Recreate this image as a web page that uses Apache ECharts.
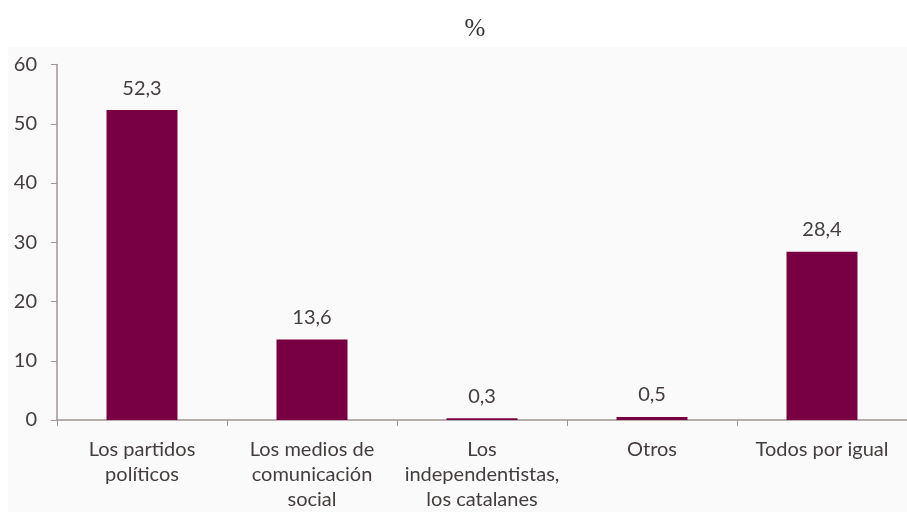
<!DOCTYPE html>
<html>
<head>
<meta charset="utf-8">
<script src="https://cdn.jsdelivr.net/npm/echarts@6/dist/echarts.min.js"></script>
<style>
  html, body { margin: 0; padding: 0; background: #ffffff; }
  #chart { width: 907px; height: 512px; }
</style>
</head>
<body>
<div id="chart"></div>
<script>
// Respuestas (%)
const categories = [
  'Los partidos\npolíticos',
  'Los medios de\ncomunicación\nsocial',
  'Los\nindependentistas,\nlos catalanes',
  'Otros',
  'Todos por igual'
];
const values = [52.3, 13.6, 0.3, 0.5, 28.4];
const yTicks = { min: 0, max: 60, interval: 10 };

const labelFont = 'Lato, "Open Sans", sans-serif';
const textColor = '#453d3d';
const axisColor = '#a39494';

const chart = echarts.init(document.getElementById('chart'), null, { renderer: 'canvas' });
chart.setOption({
  backgroundColor: '#ffffff',
  animation: false,
  graphic: [{
    type: 'rect',
    z: -10,
    shape: { x: 8, y: 47, width: 899, height: 465 },
    style: { fill: '#fafafa' }
  }],
  title: {
    text: '%',
    left: 470,
    top: 12,
    textAlign: 'center',
    textStyle: { fontFamily: '"Liberation Serif", "DejaVu Serif", serif', fontWeight: 'normal', fontSize: 25, color: '#333333' }
  },
  grid: { left: 57, top: 64.5, width: 855, height: 355.5, containLabel: false },
  xAxis: {
    type: 'category',
    data: categories,
    axisLine: { lineStyle: { color: axisColor, width: 1.5 } },
    axisTick: { show: true, alignWithLabel: false, length: 6, lineStyle: { color: axisColor } },
    axisLabel: {
      interval: 0,
      margin: 17,
      fontFamily: labelFont,
      fontSize: 20,
      lineHeight: 25,
      color: textColor
    },
    splitLine: { show: false }
  },
  yAxis: {
    type: 'value',
    min: yTicks.min,
    max: yTicks.max,
    interval: yTicks.interval,
    axisLine: { show: true, lineStyle: { color: axisColor, width: 1.5 } },
    axisTick: { show: true, length: 6, lineStyle: { color: axisColor } },
    axisLabel: {
      margin: 20,
      fontFamily: labelFont,
      fontSize: 20,
      color: textColor
    },
    splitLine: { show: false }
  },
  series: [{
    type: 'bar',
    data: values,
    barWidth: 71,
    barCategoryGap: '58%',
    itemStyle: { color: '#780042' },
    label: {
      show: true,
      position: 'top',
      distance: 12,
      fontFamily: labelFont,
      fontSize: 20,
      color: textColor,
      formatter: p => p.value.toFixed(1).replace('.', ',')
    }
  }]
});
</script>
</body>
</html>
